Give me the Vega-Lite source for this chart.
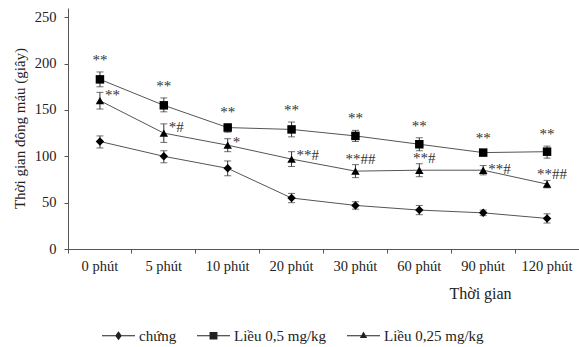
{
  "$schema": "https://vega.github.io/schema/vega-lite/v6.json",
  "autosize": {"type": "none"},
  "width": 511,
  "height": 241,
  "padding": {"left": 68, "top": 8, "right": 0, "bottom": 98},
  "background": "white",
  "config": {
    "font": "Liberation Serif",
    "view": {"stroke": null},
    "axis": {"labelFont": "Liberation Serif", "titleFont": "Liberation Serif", "labelColor": "#222", "titleColor": "#222", "domainColor": "#555", "tickColor": "#555", "grid": false, "titleFontWeight": "normal"},
    "legend": {"labelFont": "Liberation Serif"}
  },
  "resolve": {"scale": {"shape": "independent"}},
  "data": {"values": [
    {"series": "chứng", "time": "0 phút", "mean": 116, "lo": 109, "hi": 122, "sig": ""},
    {"series": "chứng", "time": "5 phút", "mean": 100, "lo": 93, "hi": 106, "sig": ""},
    {"series": "chứng", "time": "10 phút", "mean": 87, "lo": 79, "hi": 95, "sig": ""},
    {"series": "chứng", "time": "20 phút", "mean": 55, "lo": 50, "hi": 60, "sig": ""},
    {"series": "chứng", "time": "30 phút", "mean": 47, "lo": 43, "hi": 51, "sig": ""},
    {"series": "chứng", "time": "60 phút", "mean": 42, "lo": 37, "hi": 47, "sig": ""},
    {"series": "chứng", "time": "90 phút", "mean": 39, "lo": 36, "hi": 42, "sig": ""},
    {"series": "chứng", "time": "120 phút", "mean": 33, "lo": 28, "hi": 38, "sig": ""},
    {"series": "Liều 0,5 mg/kg", "time": "0 phút", "mean": 183, "lo": 175, "hi": 191, "sig": "**"},
    {"series": "Liều 0,5 mg/kg", "time": "5 phút", "mean": 155, "lo": 148, "hi": 163, "sig": "**"},
    {"series": "Liều 0,5 mg/kg", "time": "10 phút", "mean": 131, "lo": 126, "hi": 135, "sig": "**"},
    {"series": "Liều 0,5 mg/kg", "time": "20 phút", "mean": 129, "lo": 121, "hi": 137, "sig": "**"},
    {"series": "Liều 0,5 mg/kg", "time": "30 phút", "mean": 122, "lo": 116, "hi": 128, "sig": "**"},
    {"series": "Liều 0,5 mg/kg", "time": "60 phút", "mean": 113, "lo": 106, "hi": 120, "sig": "**"},
    {"series": "Liều 0,5 mg/kg", "time": "90 phút", "mean": 104, "lo": 101, "hi": 107, "sig": "**"},
    {"series": "Liều 0,5 mg/kg", "time": "120 phút", "mean": 105, "lo": 98, "hi": 111, "sig": "**"},
    {"series": "Liều 0,25 mg/kg", "time": "0 phút", "mean": 160, "lo": 151, "hi": 169, "sig": "**"},
    {"series": "Liều 0,25 mg/kg", "time": "5 phút", "mean": 125, "lo": 115, "hi": 135, "sig": "*#"},
    {"series": "Liều 0,25 mg/kg", "time": "10 phút", "mean": 112, "lo": 105, "hi": 119, "sig": "*"},
    {"series": "Liều 0,25 mg/kg", "time": "20 phút", "mean": 97, "lo": 89, "hi": 105, "sig": "**#"},
    {"series": "Liều 0,25 mg/kg", "time": "30 phút", "mean": 84, "lo": 77, "hi": 91, "sig": "**##"},
    {"series": "Liều 0,25 mg/kg", "time": "60 phút", "mean": 85, "lo": 78, "hi": 92, "sig": "**#"},
    {"series": "Liều 0,25 mg/kg", "time": "90 phút", "mean": 85, "lo": 80, "hi": 90, "sig": "**#"},
    {"series": "Liều 0,25 mg/kg", "time": "120 phút", "mean": 70, "lo": 66, "hi": 74, "sig": "**##"}
  ]},
  "encoding": {
    "x": {
      "field": "time", "type": "nominal",
      "sort": ["0 phút", "5 phút", "10 phút", "20 phút", "30 phút", "60 phút", "90 phút", "120 phút"],
      "scale": {"type": "band", "paddingInner": 0, "paddingOuter": 0},
      "axis": {
        "title": "Thời gian", "titleFontSize": 16, "titleX": 412, "titleY": 44, "titleAlign": "center", "titleBaseline": "middle", "titleAnchor": null,
        "labelAngle": 0, "labelFontSize": 14.5, "labelPadding": 6, "bandPosition": 0,
        "tickSize": 4, "labelFlush": false
      }
    }
  },
  "layer": [
    {
      "mark": {"type": "line", "color": "#555", "strokeWidth": 1},
      "encoding": {
        "y": {
          "field": "mean", "type": "quantitative",
          "scale": {"domain": [0, 250]},
          "axis": {
            "title": "Thời gian đông máu (giây)", "titleFontSize": 15, "titleX": -49, "titleY": 120, "titleAlign": "center", "titleBaseline": "middle", "titleAngle": 270,
            "values": [0, 50, 100, 150, 200, 250], "labelFontSize": 14.5, "tickSize": 4, "labelPadding": 8
          }
        },
        "detail": {"field": "series"}
      }
    },
    {
      "mark": {"type": "rule", "color": "#333", "strokeWidth": 1},
      "encoding": {"y": {"field": "lo", "type": "quantitative"}, "y2": {"field": "hi"}}
    },
    {
      "mark": {"type": "tick", "color": "#333", "thickness": 1, "size": 7, "orient": "horizontal"},
      "encoding": {"y": {"field": "lo", "type": "quantitative"}}
    },
    {
      "mark": {"type": "tick", "color": "#333", "thickness": 1, "size": 7, "orient": "horizontal"},
      "encoding": {"y": {"field": "hi", "type": "quantitative"}}
    },
    {
      "mark": {"type": "point", "filled": true, "color": "black", "opacity": 1, "size": 72},
      "encoding": {
        "y": {"field": "mean", "type": "quantitative"},
        "shape": {
          "field": "series", "type": "nominal",
          "scale": {"domain": ["chứng", "Liều 0,5 mg/kg", "Liều 0,25 mg/kg"], "range": ["diamond", "square", "triangle-up"]},
          "legend": null
        }
      }
    },
    {
      "transform": [{"filter": "false"}],
      "mark": {"type": "point", "filled": true, "color": "#222", "opacity": 1, "size": 1089},
      "encoding": {
        "y": {"field": "mean", "type": "quantitative"},
        "shape": {
          "field": "series", "type": "nominal",
          "scale": {"domain": ["chứng", "Liều 0,5 mg/kg", "Liều 0,25 mg/kg"], "range": [
            "M-1,-0.035L1,-0.035L1,0.035L-1,0.035ZM0,-0.27L0.2,0L0,0.27L-0.2,0Z",
            "M-1,-0.035L1,-0.035L1,0.035L-1,0.035ZM-0.24,-0.22L0.24,-0.22L0.24,0.22L-0.24,0.22Z",
            "M-1,-0.035L1,-0.035L1,0.035L-1,0.035ZM0,-0.26L0.22,0.14L-0.22,0.14Z"
          ]},
          "legend": {
            "title": null, "orient": "none", "direction": "horizontal", "legendX": 34, "legendY": 311,
            "symbolSize": 1089, "labelFontSize": 15, "labelOffset": 4, "columnPadding": 20, "labelColor": "#222",
            "symbolStrokeWidth": 0, "symbolFillColor": "#222", "symbolOpacity": 1
          }
        }
      }
    },
    {
      "transform": [{"filter": "datum.series === 'Liều 0,5 mg/kg'"}],
      "mark": {"type": "text", "fontSize": 15, "color": "#333", "baseline": "alphabetic", "align": "center", "dy": -7},
      "encoding": {"y": {"field": "hi", "type": "quantitative"}, "text": {"field": "sig"}}
    },
    {
      "transform": [{"filter": "datum.series === 'Liều 0,25 mg/kg' && indexof(['30 phút','60 phút','120 phút'], datum.time) < 0"}],
      "mark": {"type": "text", "fontSize": 15, "color": "#333", "baseline": "middle", "align": "left", "dx": 5, "dy": 3},
      "encoding": {"y": {"field": "hi", "type": "quantitative"}, "text": {"field": "sig"}}
    },
    {
      "transform": [{"filter": "datum.series === 'Liều 0,25 mg/kg' && indexof(['30 phút','60 phút','120 phút'], datum.time) >= 0"}],
      "mark": {"type": "text", "fontSize": 15, "color": "#333", "baseline": "alphabetic", "align": "center", "dx": 5, "dy": -1},
      "encoding": {"y": {"field": "hi", "type": "quantitative"}, "text": {"field": "sig"}}
    }
  ]
}
